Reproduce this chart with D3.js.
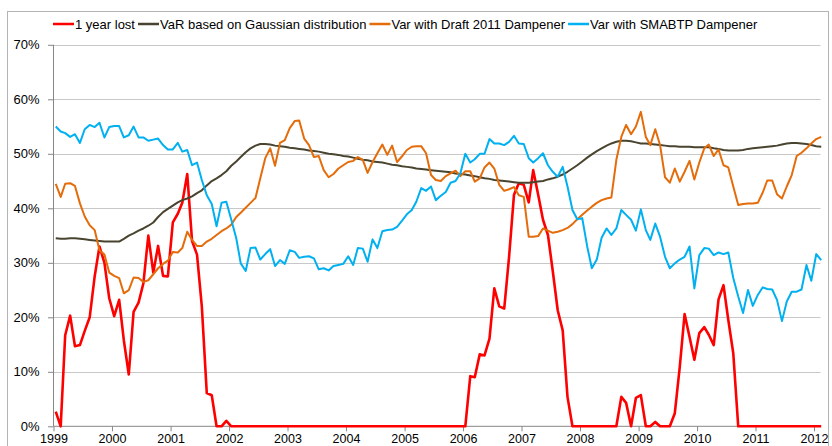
<!DOCTYPE html>
<html>
<head>
<meta charset="utf-8">
<script src="https://cdn.jsdelivr.net/npm/d3@7"></script>
<style>
  body { margin: 0; background: #fff; }
  text { font-family: "Liberation Sans", Arial, sans-serif; }
</style>
</head>
<body>
<div id="chart"></div>
<script>
// monthly values, Jan 1999 .. Feb 2012 (in %)
var yearLost = [
  2.7, 0, 16.7, 20.3, 14.7, 14.9, 17.5, 20, 27.5, 33,
  30, 23.5, 20.2, 23.2, 15.8, 9.5, 21, 22.7, 26.2, 35,
  28.2, 33.1, 27.6, 27.5, 37.4, 39, 41, 46.3, 34, 31.5,
  22, 6.1, 5.7, 0, 0, 1, 0, 0, 0, 0,
  0, 0, 0, 0, 0, 0, 0, 0, 0, 0,
  0, 0, 0, 0, 0, 0, 0, 0, 0, 0,
  0, 0, 0, 0, 0, 0, 0, 0, 0, 0,
  0, 0, 0, 0, 0, 0, 0, 0, 0, 0,
  0, 0, 0, 0, 0, 9.2, 9.0, 13.2, 13.0, 16.1,
  25.3, 22, 21.6, 31, 42.5, 44.6, 44.3, 41.1, 47, 42.5,
  37.9, 35.1, 28.5, 21.3, 17.6, 5.4, 0, 0, 0, 0,
  0, 0, 0, 0, 0, 0, 5.4, 4.3, 0, 5.2,
  5.7, 0, 0, 0.8, 0, 0, 0, 2.4, 10.9, 20.6,
  16.4, 12.2, 17.1, 18.2, 16.8, 14.9, 23.3, 25.9, 19.5, 13.4,
  0, 0, 0, 0, 0, 0, 0, 0, 0, 0,
  0, 0, 0, 0, 0, 0, 0, 0
]

var gaussian = [
  34.5, 34.4, 34.4, 34.5, 34.5, 34.4, 34.3, 34.2, 34.1, 34.0,
  33.9, 33.9, 33.9, 33.9, 34.4, 35.0, 35.4, 35.9, 36.3, 36.8,
  37.4, 38.4, 39.3, 39.9, 40.5, 41.1, 41.5, 41.8, 42.2, 42.8,
  43.3, 44.2, 45.0, 45.5, 46.1, 46.8, 47.8, 48.6, 49.4, 50.3,
  51.0, 51.5, 51.8, 51.8, 51.7, 51.5, 51.4, 51.3, 51.1, 51.0,
  50.9, 50.8, 50.6, 50.5, 50.4, 50.2, 50.0, 49.9, 49.8, 49.6,
  49.5, 49.3, 49.1, 48.9, 48.8, 48.6, 48.5, 48.4, 48.2, 48.0,
  47.9, 47.7, 47.6, 47.5, 47.3, 47.2, 47.1, 47.0, 46.9, 46.8,
  46.7, 46.6, 46.4, 46.3, 46.2, 46.0, 45.9, 45.7, 45.5, 45.4,
  45.2, 45.1, 45.0, 44.9, 44.8, 44.7, 44.7, 44.7, 44.8, 44.9,
  45.0, 45.3, 45.5, 45.8, 46.2, 46.7, 47.3, 47.9, 48.6, 49.3,
  49.9, 50.5, 51.0, 51.5, 51.9, 52.2, 52.4, 52.4, 52.3, 52.1,
  51.9, 51.9, 51.8, 51.7, 51.6, 51.5, 51.4, 51.4, 51.3, 51.3,
  51.3, 51.2, 51.2, 51.2, 51.2, 51.0, 50.9, 50.7, 50.6, 50.6,
  50.6, 50.7, 50.9, 51.0, 51.1, 51.2, 51.3, 51.4, 51.5, 51.7,
  51.9, 52.0, 52.0, 51.9, 51.8, 51.6, 51.4, 51.3
]

var draft2011 = [
  44.5, 42.1, 44.5, 44.6, 44.1, 40.9, 38.5, 36.9, 36, 32.3,
  31.5, 28.2, 27.6, 27.2, 24.4, 25, 27.3, 27.2, 26.5, 26.8,
  27.9, 29, 29.8, 30.4, 32, 31.9, 32.7, 35.7, 34.2, 33.1,
  33.1, 33.9, 34.4, 35.1, 35.8, 36.3, 37, 38.4, 39.2, 40.1,
  41, 41.9, 45.5, 49.2, 51, 47.8, 52, 52.5, 54.7, 56,
  56.1, 52.8, 51.6, 49.4, 49.6, 47, 45.7, 46.3, 47.3, 47.9,
  48.5, 48.7, 49.4, 48.9, 46.5, 48.5, 50.1, 51.7, 49.8, 51.5,
  48.5, 49.5, 50.7, 51.3, 51.4, 51.4, 50.1, 46.1, 45.2, 45,
  45.9, 46.4, 46.9, 45.9, 46.8, 46.8, 44.9, 45.5, 47.5, 48.4,
  47.3, 44.3, 43.2, 43.5, 43.9, 42.4, 42.1, 34.8, 34.8, 34.9,
  36.3, 35.9, 35.5, 35.7, 36, 36.4, 37.1, 38, 38.8, 39.6,
  40.3, 41, 41.5, 41.8, 42, 48.9, 53.1, 55.3, 53.6, 55,
  57.7, 53.1, 51.6, 54.5, 51.6, 45.7, 44.7, 47.3, 44.9, 46.7,
  48.7, 45.3, 48.4, 51, 51.7, 49.6, 50.8, 47.9, 47.5, 44,
  40.6, 40.8, 40.9, 40.9, 41, 42.9, 45.1, 45.1, 42.6, 41.8,
  44, 46.1, 49.6, 50.2, 51, 51.9, 52.7, 53.1
]

var smabtp = [
  55, 54.1, 53.8, 53.1, 53.6, 52, 54.5, 55.3, 54.9, 55.7,
  53, 54.9, 55.1, 55.1, 53, 53.4, 55, 53, 53, 52.4,
  52.6, 52.8, 51.6, 50.8, 50.8, 52, 50.4, 50.7, 47.9, 48.4,
  45.2, 42.4, 40.8, 36.7, 41, 41.2, 37.9, 34.5, 29.9, 28.5,
  32.7, 32.8, 30.6, 31.6, 32.5, 29.4, 30.5, 29.8, 32.3, 32,
  30.9, 31.1, 31.2, 30.8, 28.8, 29, 28.6, 29.4, 29.6, 29.8,
  31.2, 29.6, 32.7, 32.6, 30.2, 34.3, 32.7, 35.8, 36, 36.1,
  36.6, 37.7, 38.9, 39.7, 41.2, 43.7, 43.2, 44, 41.5, 42.3,
  43, 44.7, 45, 46.4, 50, 48.4, 49, 50, 50, 52.7,
  51.9, 51.9, 51.6, 52.2, 53.3, 51.9, 51.8, 49.2, 48.4, 49.2,
  50.1, 47.9, 46.7, 45.8, 47.6, 44, 39.7, 38, 38.2, 33,
  29, 30.6, 34.6, 36.3, 35.1, 36.3, 39.7, 38.8, 37.9, 35.9,
  39.8, 36, 34.2, 37.2, 34.8, 31.1, 29, 29.9, 30.6, 31.1,
  33, 25.3, 31.4, 32.7, 32.6, 31.4, 31.9, 31.6, 31.9, 27.2,
  23.8, 20.8, 25, 22.1, 24.1, 25.5, 25.2, 25.1, 23.2, 19.3,
  22.9, 24.7, 24.7, 25.1, 29.6, 26.7, 31.6, 30.5
]

var seriesNames = ["1 year lost", "VaR based on Gaussian distribution", "Var with Draft 2011 Dampener", "Var with SMABTP Dampener"]
var seriesColors = ["#ff0000", "#49442f", "#e46c0a", "#00b0f0"]
var seriesValues = [yearLost, gaussian, draft2011, smabtp]
var yTicks = [0, 10, 20, 30, 40, 50, 60, 70]

// one point per month, mid-month
var dates = yearLost.map((d, i) => new Date(1999, i, 15))

var svgSize = { width: 832, height: 446 }

var svg = d3.select("#chart")
    .append("svg")
    .attr("width", svgSize.width)
    .attr("height", svgSize.height)

// outer frame
svg.append("rect")
    .attr("x", 7.5).attr("y", 11.5)
    .attr("width", 821).attr("height", 460)
    .attr("fill", "none")
    .attr("stroke", "#b4b4b4")

var plot = { left: 53.5, right: 820.5, top: 44.8, bottom: 426.3 }

var xScale = d3.scaleTime()
    .domain([new Date(1999, 0, 1), new Date(2012, 0, 1)])
    .range([plot.left, 814])

var yScale = d3.scaleLinear()
    .domain([0, 70])
    .range([plot.bottom, plot.top])

// gridlines
svg.append("g")
    .selectAll("line")
    .data(yTicks.slice(1))
    .enter()
    .append("line")
    .attr("x1", plot.left)
    .attr("x2", plot.right)
    .attr("y1", d => Math.round(yScale(d)) + 0.5)
    .attr("y2", d => Math.round(yScale(d)) + 0.5)
    .attr("stroke", "#c8c8c8")
    .attr("stroke-width", 1.2)

// y axis
var leftAxis = d3.axisLeft(yScale)
    .tickValues(yTicks)
    .tickFormat(d => d + "%")
    .tickSize(5.5)
    .tickPadding(8.5)

var yAxis = svg.append("g")
    .attr("transform", `translate(${plot.left}, 0)`)
    .call(leftAxis)
yAxis.select(".domain").remove()
yAxis.selectAll("line").attr("stroke", "#868686")
yAxis.selectAll("text").attr("font-size", 13).attr("fill", "#000")
    .attr("font-family", "Liberation Sans, Arial, sans-serif")
yAxis.append("line")
    .attr("y1", plot.top).attr("y2", plot.bottom)
    .attr("stroke", "#868686")

// x axis
var bottomAxis = d3.axisBottom(xScale)
    .ticks(d3.timeYear.every(1))
    .tickFormat(d3.timeFormat("%Y"))
    .tickSize(5)
    .tickPadding(3.3)

var xAxis = svg.append("g")
    .attr("transform", `translate(0, ${plot.bottom})`)
    .call(bottomAxis)
xAxis.select(".domain").remove()
xAxis.selectAll("line").attr("stroke", "#868686")
xAxis.selectAll("text").attr("font-size", 12.5).attr("fill", "#000")
    .attr("font-family", "Liberation Sans, Arial, sans-serif")
xAxis.append("line")
    .attr("x1", plot.left).attr("x2", plot.right)
    .attr("stroke", "#868686")

// lines
svg.append("clipPath").attr("id", "plotClip")
    .append("rect")
    .attr("x", plot.left).attr("y", 0)
    .attr("width", plot.right - plot.left + 2).attr("height", svgSize.height)

var line = d3.line()
    .x((d, i) => xScale(dates[i]))
    .y(d => yScale(d))

var chartData = svg.append("g").attr("clip-path", "url(#plotClip)")

chartData.selectAll("path")
    .data(seriesValues)
    .enter()
    .append("path")
    .attr("d", d => line(d))
    .attr("fill", "none")
    .attr("stroke", (d, i) => seriesColors[i])
    .attr("stroke-width", (d, i) => i == 0 ? 2.6 : 2)
    .attr("stroke-linejoin", "round")

// legend
var legend = svg.append("g").attr("transform", "translate(0, 24)")
var xpos = 53
seriesNames.forEach((name, i) => {
    legend.append("line")
        .attr("x1", xpos).attr("x2", xpos + 21)
        .attr("stroke", seriesColors[i])
        .attr("stroke-width", 2.5)
    var t = legend.append("text")
        .attr("x", xpos + 22)
        .attr("y", 4.6)
        .attr("font-size", 13)
        .attr("fill", "#000")
        .text(name)
    xpos += 22 + t.node().getComputedTextLength() + 3
})
</script>
</body>
</html>
